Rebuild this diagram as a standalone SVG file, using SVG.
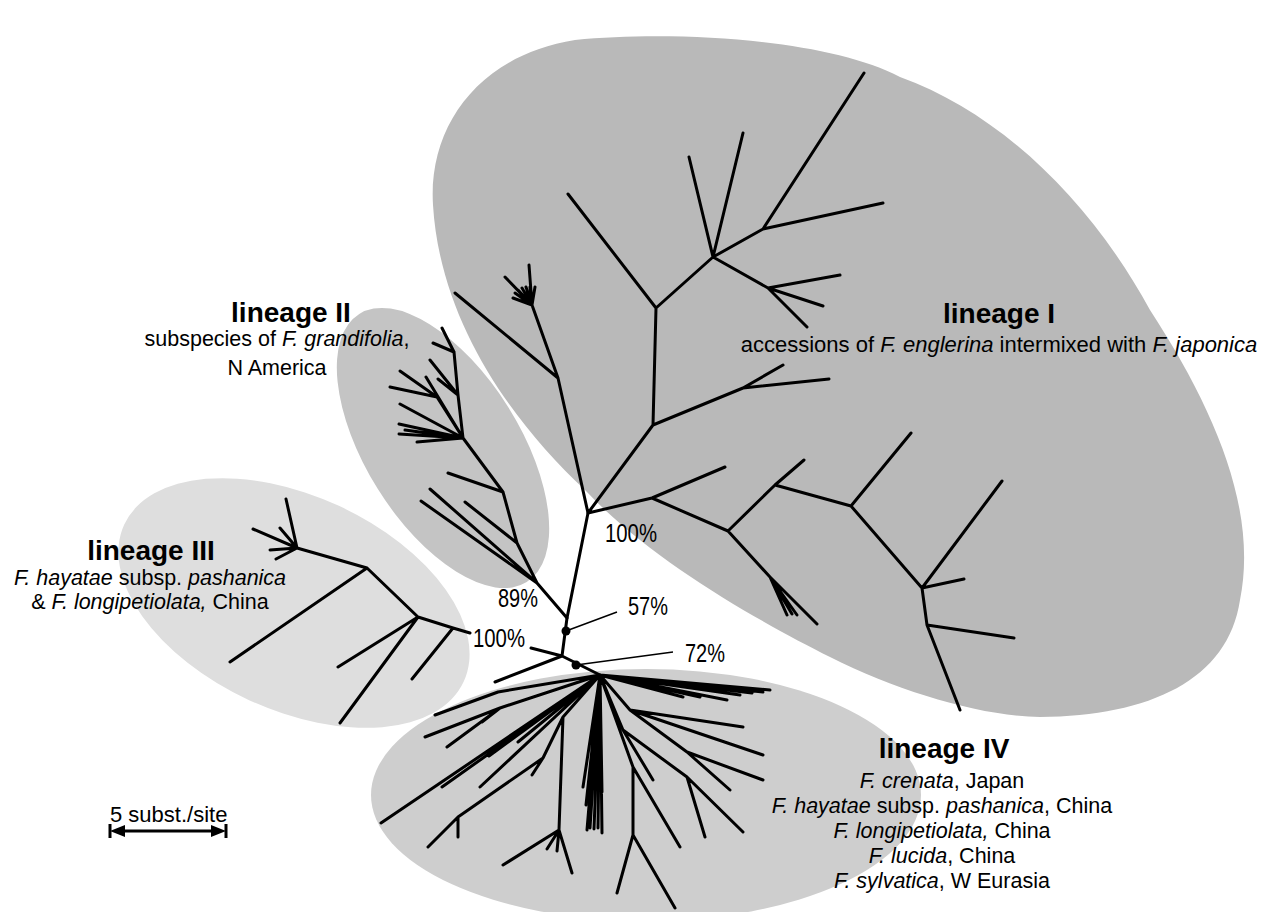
<svg xmlns="http://www.w3.org/2000/svg" width="1271" height="912" viewBox="0 0 1271 912">
  <style>
    text { font-family: "Liberation Sans", Arial, sans-serif; fill: #000; }
    .title { font-size: 28px; font-weight: bold; text-anchor: middle; }
    .sub { font-size: 21.5px; text-anchor: middle; }
    .pct { font-size: 25px; }
    .br { fill: none; stroke: #000; stroke-width: 3; stroke-linecap: round; stroke-linejoin: round; }
    .lead { fill: none; stroke: #000; stroke-width: 1.5; }
  </style>
  <rect width="1271" height="912" fill="#fff"/>

  <!-- clade hulls -->
  <g id="lineage-IV">
    <ellipse cx="646" cy="795" rx="275" ry="126" fill="#cecece"/>
  </g>
  <g id="lineage-III">
    <ellipse cx="294" cy="603" rx="187" ry="107" transform="rotate(24.8 294 603)" fill="#dedede"/>
  </g>
  <g id="lineage-II">
    <ellipse cx="443" cy="448" rx="158" ry="77" transform="rotate(58 443 448)" fill="#c4c4c4"/>
  </g>
  <g id="lineage-I">
    <path fill="#b9b9b9" d="M433,205 C428,125 480,55 575,40 C680,30 830,40 900,77 C1000,113 1090,200 1150,310 C1215,410 1258,510 1240,600 C1228,680 1150,716 1040,717 C980,716 900,692 830,657 C760,622 650,560 585,490 C510,420 440,320 433,205 Z"/>
  </g>

  <!-- branches -->
  <g id="connectors">
    <!-- backbone -->
    <path class="br" d="M588,513 L567,618 L562,656 L600,675 M562,656 L495,682 M531,648 L562,656"/>
    <!-- lineage I -->
    <path class="br" d="M588,513 L558,378 L455,293
      M558,378 L532,305 L529,265 M532,305 L505,277
      M532,305 L513,298 M532,305 L515,293 M532,305 L518,290 M532,305 L522,288 M532,305 L526,287 M532,305 L530,287 M532,305 L535,287
      M588,513 L653,425 L656,308 L568,194
      M653,425 L743,388 L783,365 M743,388 L829,379
      M656,308 L713,257 L689,157 M713,257 L743,133
      M713,257 L763,229 L864,73 M763,229 L883,203
      M713,257 L768,288 L840,275 M768,288 L823,306 M768,288 L807,327
      M588,513 L652,498 L725,467
      M652,498 L728,531 L775,485 L804,460
      M775,485 L851,506 L911,433
      M851,506 L922,588 L1002,481
      M922,588 L964,579
      M922,588 L927,625 L1014,638 M927,625 L960,710
      M728,531 L770,577 L787,615 M770,577 L792,614 M770,577 L797,615 M770,577 L817,624"/>
    <!-- lineage II -->
    <path class="br" d="M567,618 L537,583 L421,501 M537,583 L430,489
      M537,583 L517,543 L465,502
      M517,543 L503,492 L448,473
      M503,492 L463,438 L400,404 M463,438 L399,424 M463,438 L399,434 M463,438 L417,442 M463,438 L405,430
      M463,438 L437,397 L400,371 M437,397 L390,387 M463,438 L426,377
      M463,438 L458,395 L430,360 M458,395 L438,379
      M458,395 L454,352 L442,328 M454,352 L433,343"/>
    <!-- lineage III -->
    <path class="br" d="M418,617 L453,628 L470,633 M453,628 L412,679
      M418,617 L338,667 M418,617 L340,723
      M418,617 L367,568 L230,662
      M367,568 L297,548 L286,499 M297,548 L253,529 M297,548 L280,528 M297,548 L270,550 M297,548 L276,559"/>
    <!-- lineage IV -->
    <path class="br" d="M600,675 L770,690 M600,675 L763,692 M600,675 L752,693 M600,675 L740,695 M600,675 L727,700 M600,675 L700,697 M600,675 L683,697 M600,675 L668,693
      M600,675 L630,710 L743,727 M630,710 L763,755 M630,710 L687,752 L763,780 M687,752 L730,790
      M600,675 L623,730 L653,780 M623,730 L687,777 L743,832 M687,777 L705,837
      M600,675 L633,767 L680,847 M633,767 L633,835 L617,893 M633,835 L675,908
      M600,675 L498,692 L435,715
      M600,675 L500,708 L425,737 M500,708 L447,747 M500,708 L482,722
      M600,675 L489,756 M600,675 L494,752 M600,675 L518,742
      M600,675 L442,787 M600,675 L381,823 M600,675 L480,787
      M600,675 L563,717 L559,830 L503,865 M559,830 L547,849 M559,830 L557,851 M559,830 L572,873
      M563,717 L543,758 L532,775 M543,758 L458,817 L428,847 M458,817 L458,837
      M600,675 L583,787 M600,675 L586,805 M600,675 L587,830 M600,675 L590,828 M600,675 L594,829 M600,675 L598,828 M600,675 L602,833 M600,675 L602,792 M600,675 L600,790"/>
    <!-- support leaders -->
    <path class="lead" d="M566,631 L617,612 M576,665 L673,652"/>
    <circle cx="566" cy="631" r="4.5"/>
    <circle cx="576" cy="665" r="4.5"/>
  </g>

  <!-- bootstrap support -->
  <g id="support">
    <text class="pct" x="605" y="542" textLength="52" lengthAdjust="spacingAndGlyphs">100%</text>
    <text class="pct" x="498" y="607" textLength="40" lengthAdjust="spacingAndGlyphs">89%</text>
    <text class="pct" x="628" y="615" textLength="40" lengthAdjust="spacingAndGlyphs">57%</text>
    <text class="pct" x="473" y="647" textLength="52" lengthAdjust="spacingAndGlyphs">100%</text>
    <text class="pct" x="685" y="662" textLength="40" lengthAdjust="spacingAndGlyphs">72%</text>
  </g>

  <!-- clade labels -->
  <g id="label-I">
    <text class="title" x="999" y="323">lineage I</text>
    <text class="sub" x="999" y="352" style="font-size:22px">accessions of <tspan font-style="italic">F. englerina</tspan> intermixed with <tspan font-style="italic">F. japonica</tspan></text>
  </g>
  <g id="label-II">
    <text class="title" x="291" y="322">lineage II</text>
    <text class="sub" x="277" y="346">subspecies of <tspan font-style="italic">F. grandifolia</tspan>,</text>
    <text class="sub" x="277" y="375">N America</text>
  </g>
  <g id="label-III">
    <text class="title" x="151" y="560">lineage III</text>
    <text class="sub" x="150" y="585"><tspan font-style="italic">F. hayatae</tspan> subsp. <tspan font-style="italic">pashanica</tspan></text>
    <text class="sub" x="150" y="609">&amp; <tspan font-style="italic">F. longipetiolata,</tspan> China</text>
  </g>
  <g id="label-IV">
    <text class="title" x="944" y="758">lineage IV</text>
    <text class="sub" x="942" y="788"><tspan font-style="italic">F. crenata</tspan>, Japan</text>
    <text class="sub" x="942" y="813"><tspan font-style="italic">F. hayatae</tspan> subsp. <tspan font-style="italic">pashanica</tspan>, China</text>
    <text class="sub" x="942" y="838"><tspan font-style="italic">F. longipetiolata,</tspan> China</text>
    <text class="sub" x="942" y="863"><tspan font-style="italic">F. lucida</tspan>, China</text>
    <text class="sub" x="942" y="888"><tspan font-style="italic">F. sylvatica</tspan>, W Eurasia</text>
  </g>

  <!-- scale bar -->
  <g id="scale-bar">
    <text x="110" y="822" style="font-size:22px">5 subst./site</text>
    <line x1="118" y1="831" x2="218" y2="831" stroke="#000" stroke-width="3"/>
    <polygon points="110,831 125,825 125,837"/>
    <polygon points="226,831 211,825 211,837"/>
    <line x1="110" y1="824" x2="110" y2="838" stroke="#000" stroke-width="3"/>
    <line x1="226" y1="824" x2="226" y2="838" stroke="#000" stroke-width="3"/>
  </g>
</svg>
